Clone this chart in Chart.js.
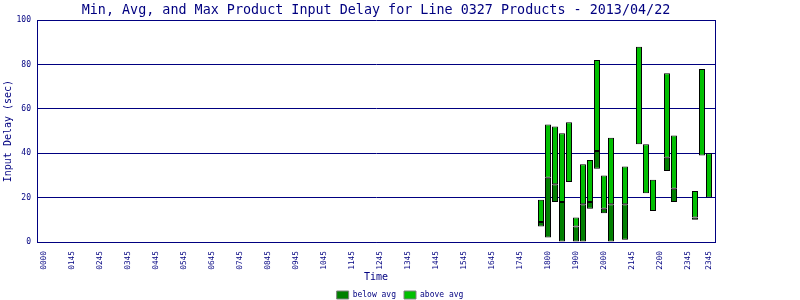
<!DOCTYPE html>
<html>
<head>
<meta charset="utf-8">
<script src="https://cdn.jsdelivr.net/npm/chart.js@4/dist/chart.umd.min.js"></script>
<style>
    html, body { margin: 0; padding: 0; background: #ffffff; }
    #wrap { width: 800px; height: 300px; }
</style>
</head>
<body>
<div id="wrap"><canvas id="delay-chart" width="800" height="300"></canvas></div>
<script>
    "use strict";

    // Data (15 minute slots with product input delays, seconds)
    var barTimes = ["1745", "1800", "1815", "1830", "1845", "1900", "1915", "1930", "1945", "2000",
                    "2015", "2045", "2115", "2130", "2145", "2215", "2230", "2315", "2330", "2345"];
    var minVals = [7, 2, 18, 0, 27, 0, 0, 15, 33, 13, 0, 1, 44, 22, 14, 32, 18, 10, 39, 20];
    var avgVals = [9, 29, 26, 18, 27, 7, 17, 18, 41, 15, 17, 17, 44, 22, 14, 38, 24, 11, 39, 20];
    var maxVals = [19, 53, 52, 49, 54, 11, 35, 37, 82, 30, 47, 34, 88, 44, 28, 76, 48, 23, 78, 40];

    // x axis tick labels (slot index -> text)
    var tickIndex = [0, 4, 8, 12, 16, 20, 24, 28, 32, 36, 40, 44, 48, 52, 56, 60, 64, 68, 72, 76, 80, 84, 88, 92, 95];
    var tickText = ["0000", "0145", "0245", "0345", "0445", "0545", "0645", "0745", "0845", "0945", "1045", "1145",
                    "1245", "1345", "1445", "1545", "1645", "1745", "1800", "1900", "2000", "2145", "2200", "2345", "2345"];

    // all 96 quarter-hour slots of the day
    var slots = [];
    for (var h = 0; h < 24; h++) {
        for (var m = 0; m < 60; m += 15) {
            slots.push(("0" + h).slice(-2) + ("0" + m).slice(-2));
        }
    }

    var navy = "#000080";
    var mono = "'DejaVu Sans Mono', 'Liberation Mono', monospace";

    var belowData = barTimes.map(function (t, i) { return {x: slots.indexOf(t), y: [minVals[i], avgVals[i]]}; });
    var aboveData = barTimes.map(function (t, i) { return {x: slots.indexOf(t), y: [avgVals[i], maxVals[i]]}; });

    var barStyle = {
        borderColor: "#000000",
        borderWidth: 1,
        borderSkipped: false,
        inflateAmount: 0,
        grouped: false,
        barPercentage: 0.857,
        categoryPercentage: 1
    };

    var ctx = document.getElementById("delay-chart").getContext("2d");
    var delayChart = new Chart(ctx, {
        type: "bar",
        data: {
            datasets: [
                Object.assign({label: "below avg", data: belowData, backgroundColor: "#008000"}, barStyle),
                Object.assign({label: "above avg", data: aboveData, backgroundColor: "#00c000"}, barStyle)
            ]
        },
        options: {
            responsive: false,
            animation: false,
            layout: {padding: {left: 0, right: 0, top: 0, bottom: -9}},
            plugins: {
                title: {
                    display: true,
                    text: "Min, Avg, and Max Product Input Delay for Line 0327 Products - 2013/04/22",
                    color: navy,
                    fullSize: false,
                    font: {family: mono, size: 13.4, weight: "normal", lineHeight: 1.2},
                    padding: {top: 2, bottom: 2}
                },
                legend: {
                    position: "bottom",
                    labels: {
                        boxWidth: 12,
                        boxHeight: 8,
                        padding: 8,
                        color: navy,
                        font: {family: mono, size: 8},
                        generateLabels: function (chart) {
                            var items = Chart.defaults.plugins.legend.labels.generateLabels(chart);
                            items.forEach(function (it) {
                                it.strokeStyle = "#808080";
                                it.lineWidth = 1;
                            });
                            return items;
                        }
                    }
                },
                tooltip: {enabled: false}
            },
            scales: {
                x: {
                    type: "linear",
                    offset: false,
                    min: -1,
                    max: 95.86,
                    grid: {display: false},
                    border: {display: true, color: navy, width: 1},
                    afterBuildTicks: function (scale) {
                        scale.ticks = tickIndex.map(function (v) { return {value: v}; });
                    },
                    ticks: {
                        autoSkip: false,
                        minRotation: 90,
                        maxRotation: 90,
                        padding: 1,
                        color: navy,
                        font: {family: mono, size: 7.8},
                        callback: function (value, index) {
                            return tickText[index];
                        }
                    },
                    title: {
                        display: true,
                        text: "Time",
                        color: navy,
                        font: {family: mono, size: 10},
                        padding: {top: 0, bottom: 0}
                    },
                    afterFit: function (scale) { scale.height = 41; }
                },
                y: {
                    min: 0,
                    max: 100,
                    grid: {color: navy, lineWidth: 1, drawTicks: false},
                    border: {display: true, color: navy, width: 1},
                    ticks: {
                        stepSize: 20,
                        padding: 6,
                        color: navy,
                        font: {family: mono, size: 8}
                    },
                    title: {
                        display: true,
                        text: "Input Delay (sec)",
                        color: navy,
                        font: {family: mono, size: 10},
                        padding: {top: 2, bottom: 0}
                    },
                    afterFit: function (scale) { scale.width = 37; }
                },
                yRight: {
                    position: "right",
                    display: true,
                    grid: {display: false, drawTicks: false},
                    border: {display: true, color: navy, width: 1},
                    ticks: {display: false},
                    afterFit: function (scale) { scale.width = 85; }
                }
            }
        }
    });
</script>
</body>
</html>
